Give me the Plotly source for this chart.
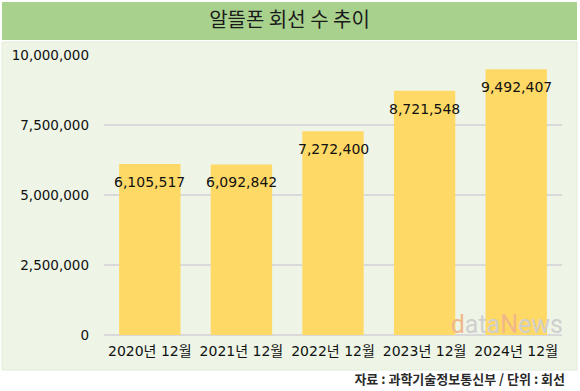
import plotly.graph_objects as go

categories = ["2020년 12월", "2021년 12월", "2022년 12월", "2023년 12월", "2024년 12월"]
values = [6105517, 6092842, 7272400, 8721548, 9492407]
tick_vals = [0, 2500000, 5000000, 7500000, 10000000]
tick_text = ["0", "2,500,000", "5,000,000", "7,500,000", "10,000,000"]
title_text = "알뜰폰 회선 수 추이"
source_text = "자료 : 과학기술정보통신부 / 단위 : 회선"

W, H = 580, 391
FONT = "DejaVu Sans, Noto Sans CJK KR, sans-serif"
KFONT = "Noto Sans CJK KR, sans-serif"

def px(x):
    return x / W

def py(y):
    return 1 - y / H

fig = go.Figure()
fig.add_trace(go.Bar(
    x=categories, y=values,
    marker=dict(color="#FFD966", line=dict(width=0)),
    hoverinfo="skip",
))

annotations = []
for c, v in zip(categories, values):
    annotations.append(dict(
        x=c, y=v, xref="x", yref="y", text=f"{v:,}", showarrow=False,
        yanchor="top", yshift=-8,
        font=dict(family=FONT, size=14, color="#111111"),
    ))

shapes = [
    dict(type="rect", xref="paper", yref="paper", layer="below",
         x0=px(2), x1=px(577), y0=py(42), y1=py(370),
         fillcolor="#EEF5E6", line=dict(color="#E2EBD8", width=1)),
    dict(type="rect", xref="paper", yref="paper", layer="below",
         x0=px(2), x1=px(577), y0=py(2), y1=py(40),
         fillcolor="#A9D18E", line=dict(color="#A9D18E", width=0),
         label=dict(text=title_text, textposition="middle center",
                    font=dict(family=KFONT, size=20, color="#1a1a1a"))),
    dict(type="rect", xref="paper", yref="paper", layer="above",
         x0=px(300), x1=px(568), y0=py(372), y1=py(388),
         fillcolor="rgba(0,0,0,0)", line=dict(width=0),
         label=dict(text="<b>" + source_text + "</b>", textposition="middle right",
                    padding=0,
                    font=dict(family=KFONT, size=13, color="#2a2a2a"))),
    dict(type="rect", xref="paper", yref="paper", layer="above",
         x0=px(440), x1=px(566), y0=py(309), y1=py(335),
         fillcolor="rgba(0,0,0,0)", line=dict(width=0), opacity=0.6,
         label=dict(text="<span style='color:#f0b88a'>d</span><span style='color:#cfcfcf'>ata</span>"
                         "<span style='color:#f0b88a'>N</span><span style='color:#cfcfcf'>ews</span>",
                    textposition="middle right", padding=0,
                    font=dict(family="Roboto, sans-serif", size=25))),
]

fig.update_layout(
    width=W, height=H,
    autosize=False,
    margin=dict(l=0, r=0, t=0, b=0, pad=0, autoexpand=False),
    paper_bgcolor="white",
    plot_bgcolor="rgba(0,0,0,0)",
    showlegend=False,
    bargap=0.33,
    shapes=shapes,
    annotations=annotations,
    xaxis=dict(
        domain=[px(104), px(562)],
        automargin=False,
        showgrid=False, zeroline=False, showline=False,
        ticks="", ticklabelstandoff=6,
        tickfont=dict(family=FONT, size=14, color="#111111"),
        fixedrange=True,
    ),
    yaxis=dict(
        domain=[py(335), py(55)],
        automargin=False,
        range=[0, 10000000],
        tickvals=tick_vals, ticktext=tick_text,
        showgrid=True, gridcolor="#D9D9D9", gridwidth=1.5,
        zeroline=True, zerolinecolor="#D9D9D9", zerolinewidth=1.5,
        showline=False, ticks="", ticklabelstandoff=14,
        tickfont=dict(family=FONT, size=13.5, color="#111111"),
        fixedrange=True,
    ),
)

fig.write_html(
    "out.html",
    config=dict(displayModeBar=False, responsive=False, staticPlot=True),
    post_script="document.body.style.margin='0';document.body.style.overflow='hidden';",
)
